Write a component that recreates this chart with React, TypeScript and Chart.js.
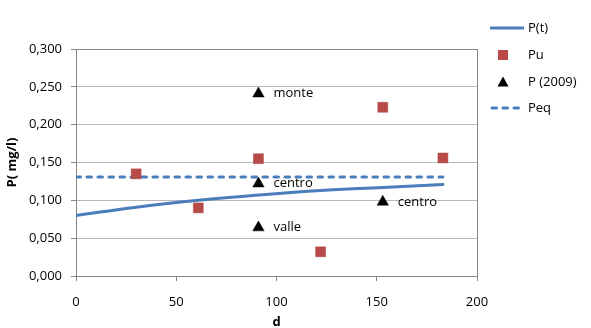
import React, { useEffect, useRef } from "react";
import { Chart, registerables } from "chart.js";

Chart.register(...registerables);

// P(t) curve
const ptDays = [0, 30, 61, 91, 122, 153, 183];
const ptValues = [0.080, 0.091, 0.100, 0.107, 0.113, 0.117, 0.121];
// Pu measurements
const puDays = [30, 61, 91, 122, 153, 183];
const puValues = [0.135, 0.090, 0.155, 0.032, 0.223, 0.156];
// P (2009) measurements
const p09Days = [91, 91, 91, 153];
const p09Values = [0.241, 0.122, 0.064, 0.098];
const p09Labels = ["monte", "centro", "valle", "centro"];
// Peq
const peqDays = [0, 183];
const peqValues = [0.131, 0.131];

const seriesNames = ["P(t)", "Pu", "P (2009)", "Peq"];
const xTicks = { min: 0, max: 200, step: 50 };
const yTicks = { min: 0, max: 0.3, step: 0.05 };

const FONT = "'Open Sans', 'DejaVu Sans', sans-serif";
const BLUE = "#4a7ebb";
const RED = "#b84a48";

const pts = (xs: number[], ys: number[]) => xs.map((x, i) => ({ x, y: ys[i] }));

export default function App() {
  const ref = useRef<HTMLCanvasElement | null>(null);

  useEffect(() => {
    if (!ref.current) return;

    const frame = {
      id: "frame",
      beforeDatasetsDraw(chart: any) {
        const { ctx, chartArea: a } = chart;
        ctx.save();
        ctx.strokeStyle = "#868686";
        ctx.lineWidth = 1;
        ctx.strokeRect(Math.round(a.left) + 0.5, Math.round(a.top) + 0.5, Math.round(a.right - a.left), Math.round(a.bottom - a.top));
        ctx.restore();
      },
    };

    const labels = {
      id: "ptlabels",
      afterDatasetsDraw(chart: any) {
        const { ctx } = chart;
        const meta = chart.getDatasetMeta(2);
        ctx.save();
        ctx.font = `13px ${FONT}`;
        ctx.fillStyle = "#000";
        ctx.textBaseline = "middle";
        ctx.textAlign = "left";
        meta.data.forEach((el: any, i: number) => {
          ctx.fillText(p09Labels[i], el.x + 15, el.y);
        });
        ctx.restore();
      },
    };

    const legend = {
      id: "customLegend",
      afterDraw(chart: any) {
        const { ctx } = chart;
        const x0 = 490, x1 = 524, tx = 528;
        const ys = [28, 55, 82, 108];
        ctx.save();
        ctx.font = `13px ${FONT}`;
        ctx.fillStyle = "#000";
        ctx.textBaseline = "middle";
        ctx.textAlign = "left";
        // P(t)
        ctx.strokeStyle = BLUE;
        ctx.lineWidth = 3;
        ctx.beginPath();
        ctx.moveTo(x0, ys[0]);
        ctx.lineTo(x1, ys[0]);
        ctx.stroke();
        // Pu
        ctx.fillStyle = RED;
        ctx.fillRect(498, ys[1] - 5, 10, 10);
        // P (2009)
        ctx.fillStyle = "#000";
        ctx.beginPath();
        ctx.moveTo(503, ys[2] - 5.5);
        ctx.lineTo(508.5, ys[2] + 4.5);
        ctx.lineTo(497.5, ys[2] + 4.5);
        ctx.closePath();
        ctx.fill();
        // Peq
        ctx.setLineDash([4.5, 6.5]);
        ctx.lineCap = "round";
        ctx.beginPath();
        ctx.moveTo(x0 + 2, ys[3]);
        ctx.lineTo(x1, ys[3]);
        ctx.stroke();
        ctx.setLineDash([]);
        ctx.fillStyle = "#000";
        seriesNames.forEach((n, i) => ctx.fillText(n, tx, ys[i]));
        ctx.restore();
      },
    };

    const chart = new Chart(ref.current, {
      type: "scatter",
      data: {
        datasets: [
          {
            label: seriesNames[0],
            data: pts(ptDays, ptValues),
            showLine: true,
            borderColor: BLUE,
            backgroundColor: BLUE,
            borderWidth: 3,
            pointRadius: 0,
            tension: 0.4,
            borderCapStyle: "round",
          },
          {
            label: seriesNames[1],
            data: pts(puDays, puValues),
            pointStyle: "rect",
            pointRadius: 7,
            backgroundColor: RED,
            borderColor: "#a5403e",
            borderWidth: 0.5,
          },
          {
            label: seriesNames[2],
            data: pts(p09Days, p09Values),
            pointStyle: "triangle",
            pointRadius: 6.6,
            backgroundColor: "#000",
            borderColor: "#000",
            borderWidth: 0.5,
          },
          {
            label: seriesNames[3],
            data: pts(peqDays, peqValues),
            showLine: true,
            borderColor: BLUE,
            backgroundColor: BLUE,
            borderWidth: 3,
            borderDash: [4.5, 6.5],
            borderCapStyle: "round",
            pointRadius: 0,
          },
        ],
      },
      options: {
        responsive: false,
        animation: false,
        layout: { padding: { top: 49, right: 114, left: 0, bottom: 0 } },
        plugins: { legend: { display: false }, tooltip: { enabled: false } },
        scales: {
          x: {
            type: "linear",
            min: xTicks.min,
            max: xTicks.max,
            afterFit: (s: any) => { s.height = 52; },
            ticks: { stepSize: xTicks.step, color: "#000", font: { family: FONT, size: 13 }, padding: 13 },
            grid: { drawOnChartArea: false, drawTicks: true, tickLength: 5, tickColor: "#868686", color: "#868686" },
            border: { color: "#868686" },
            title: { display: true, text: "d", color: "#000", font: { family: FONT, size: 13, weight: "bold" }, padding: { top: 0, bottom: -2 } },
          },
          y: {
            min: yTicks.min,
            max: yTicks.max,
            afterFit: (s: any) => { s.width = 76; },
            ticks: {
              stepSize: yTicks.step,
              color: "#000",
              font: { family: FONT, size: 13 },
              padding: 9,
              callback: (v: any) => Number(v).toFixed(3).replace(".", ","),
            },
            grid: { color: "#b8b8b8", tickLength: 5, tickColor: "#868686" },
            border: { color: "#868686" },
            title: { display: true, text: "P( mg/l)", color: "#000", font: { family: FONT, size: 13, weight: "bold" }, padding: { top: 4, bottom: 4 } },
          },
        },
      },
      plugins: [frame, labels, legend],
    } as any);

    return () => chart.destroy();
  }, []);

  return (
    <div style={{ position: "absolute", left: 0, top: 0, width: 591, height: 328, background: "#fff" }}>
      <canvas ref={ref} width={591} height={328} style={{ display: "block" }} />
    </div>
  );
}
